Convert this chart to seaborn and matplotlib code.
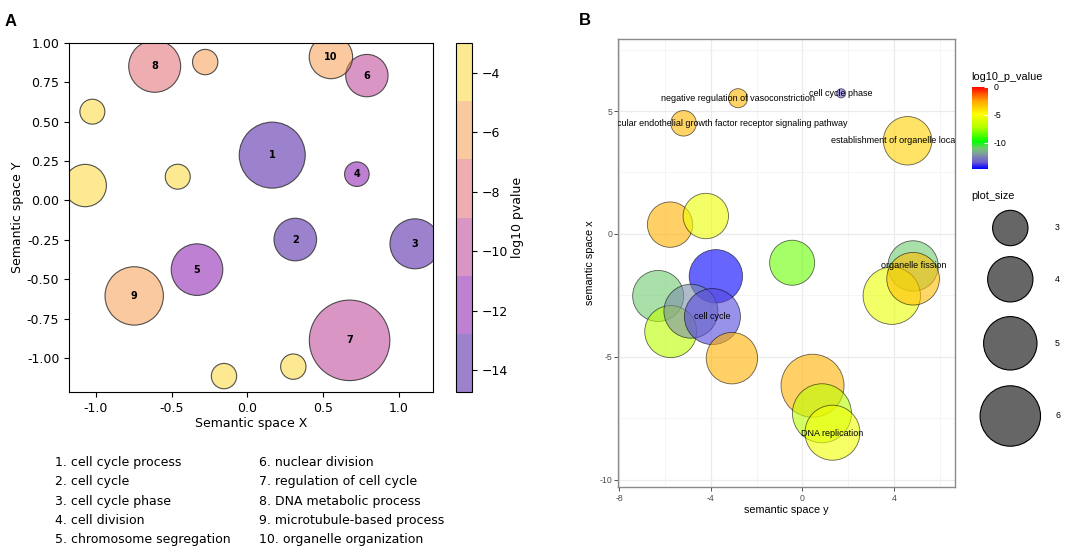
import matplotlib
matplotlib.use("Agg")
import matplotlib.pyplot as plt
import matplotlib.colors as mcolors
from matplotlib.cm import ScalarMappable
from matplotlib.ticker import MultipleLocator, FormatStrFormatter, FuncFormatter
import pandas as pd
import seaborn as sns

# ---- panel A: semantic space (numbered terms first, then the unlabeled ones)
a_x = [0.164, 0.316, 1.105, 0.722, -0.332, 0.788, 0.674, -0.611, -0.746, 0.551,
       -0.278, -1.022, -1.069, -0.459, -0.154, 0.303]
a_y = [0.288, -0.248, -0.275, 0.167, -0.439, 0.793, -0.888, 0.852, -0.606, 0.911,
       0.879, 0.564, 0.095, 0.151, -1.115, -1.055]
a_log10p = [-14.74, -13.9, -14.3, -12.2, -11.6, -9.8, -9.3, -7.8, -5.9, -6.3,
            -5.4, -3.0, -3.4, -4.1, -3.6, -4.4]
a_size = [10.9, 4.54, 6.25, 1.51, 6.66, 4.49, 16.24, 6.76, 8.53, 4.71,
          1.61, 1.56, 4.49, 1.56, 1.61, 1.61]
a_number = ["1", "2", "3", "4", "5", "6", "7", "8", "9", "10",
            "", "", "", "", "", ""]
a_terms = ["cell cycle process", "cell cycle", "cell cycle phase", "cell division",
           "chromosome segregation", "nuclear division", "regulation of cell cycle",
           "DNA metabolic process", "microtubule-based process", "organelle organization"]

# ---- panel B: REVIGO plot
b_x = [-2.81, -5.19, 1.69, 4.59, -5.78, -4.22, -0.45, -6.30, -5.75, -3.78,
       -4.87, -3.93, -3.08, 4.83, 3.90, 4.83, 0.44, 0.85, 1.31]
b_y = [5.52, 4.50, 5.72, 3.79, 0.38, 0.73, -1.17, -2.52, -3.97, -1.72,
       -3.14, -3.36, -5.05, -1.30, -2.51, -1.82, -6.17, -7.29, -8.08]
b_log10p = [-3.0, -3.0, -13.4, -3.7, -2.9, -5.4, -8.3, -11.0, -6.9, -14.7,
            -12.3, -13.7, -2.9, -11.0, -5.5, -3.2, -2.9, -6.9, -5.3]
b_size = [1.89, 2.25, 1.54, 4.37, 4.01, 4.01, 3.97, 4.69, 4.82, 5.0,
          5.08, 5.36, 4.74, 4.61, 5.55, 4.9, 6.4, 5.79, 5.22]
b_label = ["negative regulation of vasoconstriction",
           "vascular endothelial growth factor receptor signaling pathway",
           "cell cycle phase", "establishment of organelle localization",
           "cell cycle", "organelle fission", "DNA replication"]
b_label_x = [-2.81, -3.38, 1.69, 4.59, -3.92, 4.86, 1.31]
b_label_y = [5.52, 4.50, 5.72, 3.79, -3.36, -1.30, -8.10]
b_legend_sizes = [3, 4, 5, 6]

fig = plt.figure(figsize=(10.84, 5.5), dpi=100)
plt.rcParams["font.family"] = "DejaVu Sans"
W, H = 1084, 550


def rect(x0, y0, x1, y1):
    return [x0 / W, 1 - y1 / H, (x1 - x0) / W, (y1 - y0) / H]


# ================= panel A =================
ax_a = fig.add_axes(rect(69, 43, 433, 392))
plasma = plt.get_cmap("plasma")
cmap_a = mcolors.ListedColormap([(*plasma((i + 0.5) / 6)[:3], 0.5) for i in range(6)])
norm_a = (min(a_log10p), max(a_log10p))
df_a = pd.DataFrame({"x": a_x, "y": a_y, "p": a_log10p, "size": a_size})
k = 207  # points^2 per size unit
sns.scatterplot(data=df_a, x="x", y="y", hue="p", palette=cmap_a, hue_norm=norm_a,
                size="size", sizes=(min(a_size) * k, max(a_size) * k),
                size_norm=(min(a_size), max(a_size)), legend=False, ax=ax_a)
pts = ax_a.collections[0]
pts.set_edgecolor((0.2, 0.2, 0.2, 0.85))
pts.set_linewidth(0.8)
for x, y, n in zip(a_x, a_y, a_number):
    if n:
        ax_a.text(x, y, n, ha="center", va="center", fontsize=7, fontweight="bold")
ax_a.set_xlim(-1.176, 1.224)
ax_a.set_ylim(-1.216, 1.0)
ax_a.xaxis.set_major_locator(MultipleLocator(0.5))
ax_a.xaxis.set_major_formatter(FormatStrFormatter("%.1f"))
ax_a.yaxis.set_major_locator(MultipleLocator(0.25))
ax_a.yaxis.set_major_formatter(FormatStrFormatter("%.2f"))
ax_a.tick_params(labelsize=9)
ax_a.set_xlabel("Semantic space X", fontsize=9, labelpad=2)
ax_a.set_ylabel("Semantic space Y", fontsize=9, labelpad=2)

cax_a = fig.add_axes(rect(456, 43, 472, 392))
cb_a = fig.colorbar(ScalarMappable(norm=mcolors.Normalize(*norm_a), cmap=cmap_a), cax=cax_a)
cb_a.set_ticks([-4, -6, -8, -10, -12, -14])
cb_a.ax.tick_params(labelsize=9)
cb_a.set_label("log10 pvalue", fontsize=9, labelpad=2)

for i, term in enumerate(a_terms):
    col, row = divmod(i, 5)
    fig.text((55 + 204 * col) / W, 1 - (462.3 + 19.35 * row) / H, f"{i + 1}. {term}",
             fontsize=9, va="center")

# ================= panel B =================
lib = "Liberation Sans"
ax_b = fig.add_axes(rect(618.3, 38.7, 955, 487.3))
stops = [0, 1 / 12, 2 / 12, 3 / 12, 4 / 12, 6 / 12, 8 / 12, 10 / 12, 1]
cols = ["#0000FF", "#6C5BD3", "#7D93A6", "#71C971", "#00FF00", "#AEFF00",
        "#FFFF00", "#FFA100", "#FF0000"]
cmap_b = mcolors.LinearSegmentedColormap.from_list("revigo", list(zip(stops, cols)))
norm_b = (min(b_log10p), 0)


def area(v):
    return 2.0736 * (200 * v - 287)


df_b = pd.DataFrame({"x": b_x, "y": b_y, "p": b_log10p, "size": b_size})
lo, hi = min(b_size), max(b_size)
sns.scatterplot(data=df_b, x="x", y="y", hue="p", palette=cmap_b, hue_norm=norm_b,
                size="size", sizes=(area(lo), area(hi)), size_norm=(lo, hi),
                alpha=0.6, edgecolor="black", linewidth=0.6, legend=False, ax=ax_b)
for x, y, lab in zip(b_label_x, b_label_y, b_label):
    ax_b.text(x, y, lab, ha="center", va="center", fontsize=6.5, family=lib,
              clip_on=True)
ax_b.set_xlim(-8.04, 6.66)
ax_b.set_ylim(-10.3, 7.94)
ax_b.set_xticks([-8, -4, 0, 4])
ax_b.set_xticks([-6, -2, 2, 6], minor=True)
ax_b.set_yticks([-10, -5, 0, 5])
ax_b.set_yticks([-7.5, -2.5, 2.5, 7.5], minor=True)
hy = FuncFormatter(lambda v, p: f"{v:g}")
ax_b.xaxis.set_major_formatter(hy)
ax_b.yaxis.set_major_formatter(hy)
ax_b.grid(which="major", color="#ebebeb", linewidth=0.9)
ax_b.grid(which="minor", color="#f2f2f2", linewidth=0.5)
ax_b.set_axisbelow(True)
ax_b.tick_params(which="major", length=3, width=0.6, color="#333333",
                 labelsize=6.3, labelcolor="#4d4d4d", pad=1.5)
ax_b.tick_params(which="minor", length=0)
for lbl in ax_b.get_xticklabels() + ax_b.get_yticklabels():
    lbl.set_family(lib)
for sp in ax_b.spines.values():
    sp.set_color("#8a8a8a")
    sp.set_linewidth(1.0)
ax_b.set_xlabel("semantic space y", fontsize=7.8, family=lib, labelpad=1.5)
ax_b.set_ylabel("semantic space x", fontsize=7.8, family=lib, labelpad=3)

# colour legend
fig.text(971 / W, 1 - 77 / H, "log10_p_value", fontsize=7.8, family=lib, va="center")
cax_b = fig.add_axes(rect(971.7, 86.7, 987.7, 169))
cb_b = fig.colorbar(ScalarMappable(norm=mcolors.Normalize(*norm_b), cmap=cmap_b), cax=cax_b)
cb_b.outline.set_visible(False)
cb_b.set_ticks([0, -5, -10])
cb_b.ax.yaxis.set_major_formatter(hy)
cb_b.ax.tick_params(direction="in", length=3, width=0.8, color="white",
                    labelsize=6.3, pad=4)
for lbl in cb_b.ax.get_yticklabels():
    lbl.set_family(lib)

# size legend
fig.text(971 / W, 1 - 196 / H, "plot_size", fontsize=7.8, family=lib, va="center")
lax = fig.add_axes(rect(960, 180, 1084, 450))
lax.set_xlim(960, 1084)
lax.set_ylim(450, 180)
lax.axis("off")
key_y = [228, 279.3, 343.3, 416]
df_l = pd.DataFrame({"x": [1010.3] * 4, "y": key_y, "size": b_legend_sizes})
sns.scatterplot(data=df_l, x="x", y="y", size="size", sizes=(area(3), area(6)),
                size_norm=(3, 6), color="#666666", edgecolor="black",
                linewidth=0.8, legend=False, ax=lax, clip_on=False)
for y, v in zip(key_y, b_legend_sizes):
    lax.text(1055, y, str(v), fontsize=6.3, family=lib, va="center")

fig.text(5 / W, 1 - 26 / H, "A", fontsize=12, fontweight="bold", family=lib)
fig.text(579 / W, 1 - 25 / H, "B", fontsize=12, fontweight="bold", family=lib)

fig.savefig("out.png", dpi=100)
